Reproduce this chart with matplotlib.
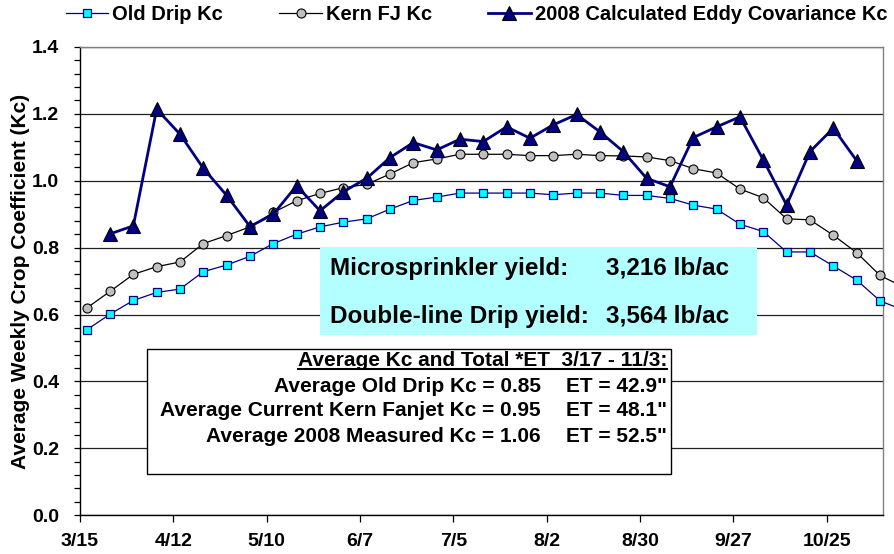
import datetime as dt
import matplotlib
matplotlib.use('Agg')
import matplotlib.pyplot as plt
import matplotlib.dates as mdates
from matplotlib.patches import Rectangle
from matplotlib.lines import Line2D
from matplotlib.ticker import MultipleLocator

plt.rcParams['font.family'] = ['Liberation Sans', 'DejaVu Sans']
plt.rcParams['font.weight'] = 'bold'

# weekly values, first week 3/17/2008 (last value is the week after the axis ends)
old_drip = [0.554, 0.601, 0.642, 0.666, 0.676, 0.728, 0.748, 0.774, 0.812, 0.840,
            0.862, 0.876, 0.886, 0.915, 0.941, 0.951, 0.963, 0.963, 0.963, 0.963,
            0.958, 0.963, 0.963, 0.956, 0.956, 0.947, 0.927, 0.915, 0.870, 0.848,
            0.787, 0.787, 0.745, 0.703, 0.641, 0.613]
kern_fj = [0.619, 0.669, 0.720, 0.743, 0.757, 0.812, 0.836, 0.862, 0.905, 0.940,
           0.962, 0.979, 0.989, 1.020, 1.054, 1.065, 1.079, 1.079, 1.079, 1.075,
           1.075, 1.079, 1.075, 1.074, 1.071, 1.060, 1.036, 1.023, 0.975, 0.949,
           0.886, 0.883, 0.837, 0.785, 0.717, 0.682]
# eddy covariance starts 3/24 and ends 11/3
eddy = [0.841, 0.865, 1.214, 1.139, 1.037, 0.956, 0.863, 0.900, 0.985, 0.910,
        0.967, 1.007, 1.069, 1.114, 1.092, 1.124, 1.117, 1.161, 1.127, 1.167,
        1.198, 1.146, 1.087, 1.007, 0.982, 1.129, 1.161, 1.191, 1.062, 0.927,
        1.087, 1.157, 1.060]

start = dt.date(2008, 3, 17)
weeks = [start + dt.timedelta(days=7 * i) for i in range(len(old_drip))]
eddy_weeks = [start + dt.timedelta(days=7 * (i + 1)) for i in range(len(eddy))]

summary_left = ['Average Old Drip Kc = 0.85',
                'Average Current Kern Fanjet Kc = 0.95',
                'Average 2008 Measured Kc = 1.06']
summary_right = ['ET = 42.9"', 'ET = 48.1"', 'ET = 52.5"']

W, H = 894, 554
fig = plt.figure(figsize=(W / 100, H / 100), dpi=100)
ax = fig.add_axes([80 / W, 1 - 515.2 / H, 803.3 / W, 468.3 / H])

navy = '#000080'
l1, = ax.plot(weeks, old_drip, color=navy, lw=0.9, marker='s', ms=6.3,
              mfc='#00FFFF', mec=navy, mew=0.9, clip_on=False, zorder=3,
              label='Old Drip Kc')
l2, = ax.plot(weeks, kern_fj, color='black', lw=0.9, marker='o', ms=6.5,
              mfc='#C0C0C0', mec='black', mew=0.8, clip_on=False, zorder=3,
              label='Kern FJ Kc')
l3, = ax.plot(eddy_weeks, eddy, color=navy, lw=2.0, marker='^', ms=10,
              mfc=navy, mec='black', mew=0.8, clip_on=False, zorder=4,
              label='2008 Calculated Eddy Covariance Kc')

x0 = mdates.date2num(dt.date(2008, 3, 15))
ax.set_xlim(x0, x0 + 241)
ax.set_ylim(0, 1.4)
ax.set_xticks([x0 + 28 * i for i in range(9)])
ax.xaxis.set_major_formatter(mdates.DateFormatter('%-m/%-d'))
ax.yaxis.set_major_locator(MultipleLocator(0.2))
ax.yaxis.set_minor_locator(MultipleLocator(0.04))
ax.yaxis.set_major_formatter(plt.FormatStrFormatter('%.1f'))
ax.grid(axis='y', which='major', color='#222222', lw=0.9, zorder=1)
ax.set_axisbelow(True)

ax.tick_params(axis='x', length=5, width=0.9, pad=8, labelsize=14)
ax.tick_params(axis='y', which='major', length=4, width=0.9, pad=11, labelsize=14)
ax.tick_params(axis='y', which='minor', length=4, width=0.9)
for s in ['left', 'bottom']:
    ax.spines[s].set_color('black')
    ax.spines[s].set_linewidth(1.0)
for s in ['top', 'right']:
    ax.spines[s].set_color('#808080')
    ax.spines[s].set_linewidth(1.0)

ax.set_ylabel('Average Weekly Crop Coefficient (Kc)', fontsize=15, fontweight='bold')
ax.yaxis.set_label_coords(-0.062, 0.5)

fig.legend(handles=[l1, l2, l3], loc='upper left', bbox_to_anchor=(64 / W, 1 - 3 / H),
           ncol=3, frameon=False, fontsize=14.5, handlelength=2.1,
           handletextpad=0.2, columnspacing=2.8, borderpad=0.1,
           borderaxespad=0.0)

def fx(px):
    return px / W

def fy(py):
    return 1 - py / H

# yield box
fig.patches.append(Rectangle((fx(320), fy(335)), (757 - 320) / W, (335 - 247) / H,
                             transform=fig.transFigure, facecolor='#B3FFFF',
                             edgecolor='none', zorder=5))
fig.text(fx(330), fy(268), 'Microsprinkler yield:', fontsize=17.5, fontweight='bold',
         va='center', ha='left', zorder=6)
fig.text(fx(606), fy(268), '3,216 lb/ac', fontsize=17.5, fontweight='bold',
         va='center', ha='left', zorder=6)
fig.text(fx(330), fy(316), 'Double-line Drip yield:', fontsize=17.5, fontweight='bold',
         va='center', ha='left', zorder=6)
fig.text(fx(606), fy(316), '3,564 lb/ac', fontsize=17.5, fontweight='bold',
         va='center', ha='left', zorder=6)

# summary box
fig.patches.append(Rectangle((fx(147), fy(474)), (671 - 147) / W, (474 - 349) / H,
                             transform=fig.transFigure, facecolor='white',
                             edgecolor='black', lw=1.0, zorder=5))
hdr = fig.text(fx(667), fy(360), 'Average Kc and Total *ET  3/17 - 11/3:', fontsize=15,
               fontweight='bold', ha='right', va='center', zorder=6)
fig.canvas.draw()
bb = hdr.get_window_extent()
fig.add_artist(Line2D([bb.x0 / W, bb.x1 / W], [fy(368.5), fy(368.5)],
                      transform=fig.transFigure, color='black', lw=1.5, zorder=6))
for i, (a, b) in enumerate(zip(summary_left, summary_right)):
    yy = fy(386 + 25 * i)
    fig.text(fx(541), yy, a, fontsize=15, fontweight='bold', ha='right', va='center', zorder=6)
    fig.text(fx(667), yy, b, fontsize=15, fontweight='bold', ha='right', va='center', zorder=6)

fig.savefig('out.png', dpi=100)
